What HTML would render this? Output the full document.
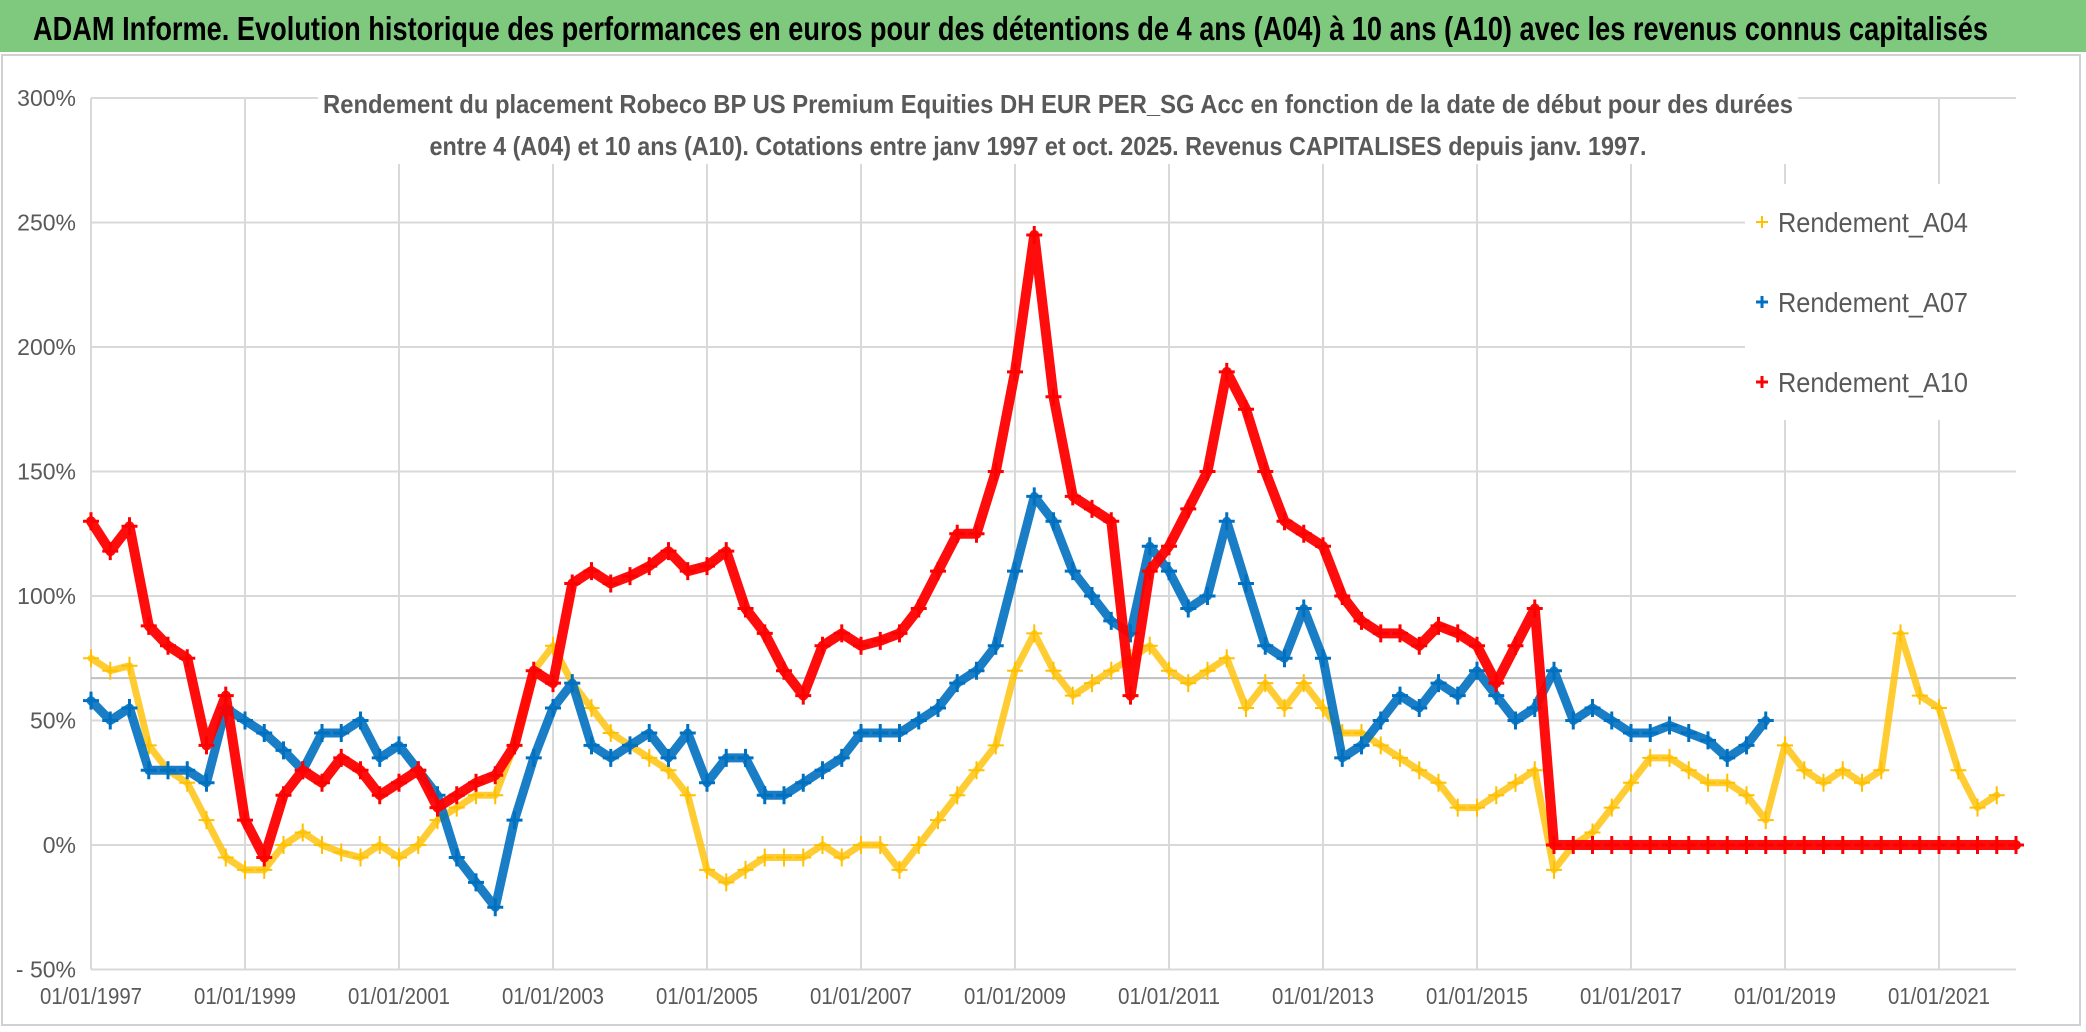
<!DOCTYPE html>
<html><head><meta charset="utf-8"><style>
html,body{margin:0;padding:0;background:#fff;}
svg{display:block;font-family:"Liberation Sans",sans-serif;}
</style></head><body>
<svg id="chart" width="2086" height="1032" viewBox="0 0 2086 1032" xmlns="http://www.w3.org/2000/svg">
<rect x="0" y="0" width="2086" height="1032" fill="#fff"/>
<rect x="0" y="0" width="2086" height="52" fill="#7fc97f"/>
<text x="33" y="40" font-size="33" font-weight="bold" fill="#000" textLength="1955" lengthAdjust="spacingAndGlyphs">ADAM Informe. Evolution historique des performances en euros pour des détentions de 4 ans (A04) à 10 ans (A10) avec les revenus connus capitalisés</text>
<rect x="2" y="55" width="2078" height="970" fill="none" stroke="#d0d0d0" stroke-width="2"/>
<g id="grid"></g>
<g id="marks"></g>
<rect x="318" y="80" width="1480" height="84" fill="#fff"/>
<text x="1058" y="113" font-size="26" font-weight="bold" fill="#595959" text-anchor="middle" textLength="1470" lengthAdjust="spacingAndGlyphs">Rendement du placement Robeco BP US Premium Equities DH EUR PER_SG Acc en fonction de la date de début pour des durées</text>
<text x="1038" y="155" font-size="26" font-weight="bold" fill="#595959" text-anchor="middle" textLength="1217" lengthAdjust="spacingAndGlyphs">entre 4 (A04) et 10 ans (A10). Cotations entre janv 1997 et oct. 2025. Revenus CAPITALISES depuis janv. 1997.</text>
<g>
<rect x="1745" y="184" width="272" height="236" fill="#fff"/>
<g><path d="M1756 222h12M1762 216v12" stroke="#ffc000" stroke-width="2"/><text x="1778" y="232" font-size="28" fill="#595959" textLength="190" lengthAdjust="spacingAndGlyphs">Rendement_A04</text></g>
<g><path d="M1756 302h12M1762 296v12" stroke="#0070c0" stroke-width="3"/><text x="1778" y="312" font-size="28" fill="#595959" textLength="190" lengthAdjust="spacingAndGlyphs">Rendement_A07</text></g>
<g><path d="M1756 382h12M1762 376v12" stroke="#ff0000" stroke-width="3"/><text x="1778" y="392" font-size="28" fill="#595959" textLength="190" lengthAdjust="spacingAndGlyphs">Rendement_A10</text></g>
</g>
</svg>
<script>
const yTicks = [300, 250, 200, 150, 100, 50, 0, -50];
const yTickLabels = ["300%", "250%", "200%", "150%", "100%", "50%", "0%", "- 50%"];
const xTickYears = [1997, 1999, 2001, 2003, 2005, 2007, 2009, 2011, 2013, 2015, 2017, 2019, 2021];
const xTickLabels = ["01/01/1997","01/01/1999","01/01/2001","01/01/2003","01/01/2005","01/01/2007","01/01/2009","01/01/2011","01/01/2013","01/01/2015","01/01/2017","01/01/2019","01/01/2021"];
const startYear = 1997;
const stepYears = 0.25;
const refLineValue = 67;
const a04Values = [75,70,72,40, 30,25,10,-5, -10,-10,0,5, 0,-3,-5,0, -5,0,10,15, 20,20,40,70, 80,65,55,45, 40,35,30,20, -10,-15,-10,-5, -5,-5,0,-5, 0,0,-10,0, 10,20,30,40, 70,85,70,60, 65,70,75,80, 70,65,70,75, 55,65,55,65, 55,45,45,40, 35,30,25,15, 15,20,25,30, -10,0,5,15, 25,35,35,30, 25,25,20,10, 40,30,25,30, 25,30,85,60, 55,30,15,20];
const a07Values = [58,50,55,30, 30,30,25,55, 50,45,38,30, 45,45,50,35, 40,30,20,-5, -15,-25,10,35, 55,65,40,35, 40,45,35,45, 25,35,35,20, 20,25,30,35, 45,45,45,50, 55,65,70,80, 110,140,130,110, 100,90,85,120, 110,95,100,130, 105,80,75,95, 75,35,40,50, 60,55,65,60, 70,60,50,55, 70,50,55,50, 45,45,48,45, 42,35,40,50];
const a10Values = [130,118,128,88, 80,75,40,60, 10,-5,20,30, 25,35,30,20, 25,30,15,20, 25,28,40,70, 65,105,110,105, 108,112,118,110, 112,118,95,85, 70,60,80,85, 80,82,85,95, 110,125,125,150, 190,245,180,140, 135,130,60,110, 120,135,150,190, 175,150,130,125, 120,100,90,85, 85,80,88,85, 80,65,80,95, 0,0,0,0, 0,0,0,0, 0,0,0,0, 0,0,0,0, 0,0,0,0, 0,0,0,0, 0];

const NS = "http://www.w3.org/2000/svg";
const X0 = 91, PX_PER_YEAR = 77, Y0 = 845, PX_PER_PCT = 2.49, XMAX = 2016;
function xs(year){ return X0 + (year - startYear) * PX_PER_YEAR; }
function ys(v){ return Y0 - v * PX_PER_PCT; }
function el(tag, attrs, parent){ const e = document.createElementNS(NS, tag); for (const k in attrs) e.setAttribute(k, attrs[k]); parent.appendChild(e); return e; }

const grid = document.getElementById("grid");
yTicks.forEach((v, i) => {
  const l = el("line", {x1: X0, x2: XMAX, y1: ys(v), y2: ys(v), stroke: "#d9d9d9", "stroke-width": 2}, grid);
  
  
  const t = el("text", {x: 76, y: ys(v) + 8, "font-size": 23, fill: "#595959", "text-anchor": "end"}, grid);
  t.textContent = yTickLabels[i];
  
  
});
xTickYears.forEach((yr, i) => {
  const l = el("line", {x1: xs(yr), x2: xs(yr), y1: ys(300), y2: ys(-50), stroke: "#d9d9d9", "stroke-width": 2}, grid);
  
  
  const t = el("text", {x: xs(yr), y: 1004, "font-size": 23, fill: "#595959", "text-anchor": "middle", textLength: 102, lengthAdjust: "spacingAndGlyphs"}, grid);
  t.textContent = xTickLabels[i];
  
  
});
const ref = el("line", {x1: X0, x2: XMAX, y1: ys(refLineValue), y2: ys(refLineValue), stroke: "#bfbfbf", "stroke-width": 2}, grid);



const marks = document.getElementById("marks");
function drawSeries(values, color, name, lineW, crossW, op){
  const g = el("g", {}, marks);
  
  
  const pts = values.map((v, i) => xs(startYear + i * stepYears).toFixed(1) + "," + ys(v).toFixed(1));
  el("polyline", {points: pts.join(" "), fill: "none", stroke: color, "stroke-width": lineW, "stroke-linejoin": "round", "stroke-linecap": "round", opacity: op}, g);
  values.forEach((v, i) => {
    const x = xs(startYear + i * stepYears), y = ys(v);
    const p = el("path", {d: `M${x-8} ${y}h16M${x} ${y-9}v18`, stroke: color, "stroke-width": crossW}, g);
    
  });
}
drawSeries(a04Values, "#ffc000", "series-a04", 7, 2, 0.8);
drawSeries(a07Values, "#0070c0", "series-a07", 9, 3, 0.9);
drawSeries(a10Values, "#ff0000", "series-a10", 10, 3, 0.95);
</script>
</body></html>
